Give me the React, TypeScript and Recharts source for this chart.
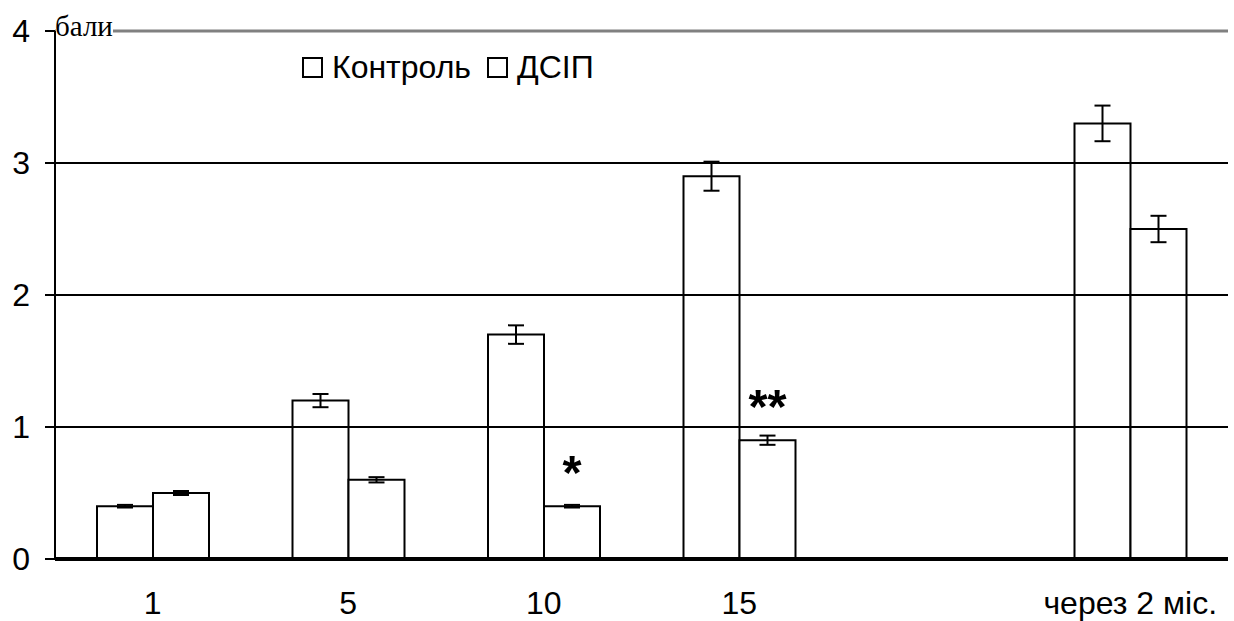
import React from 'react';
import { BarChart, Bar, XAxis, YAxis, ErrorBar, ReferenceLine, Legend, LabelList } from 'recharts';

const categories = ['1', '5', '10', '15', '', 'через 2 міс.'];
const controlValues = [0.4, 1.2, 1.7, 2.9, null, 3.3];
const controlErrors = [0.01, 0.05, 0.07, 0.11, null, 0.135];
const dsipValues = [0.5, 0.6, 0.4, 0.9, null, 2.5];
const dsipErrors = [0.015, 0.02, 0.01, 0.035, null, 0.1];
const significance = ['', '', '*', '**', '', ''];
const yTicks = [0, 1, 2, 3, 4];
const gridValues = [1, 2, 3];
const seriesNames = ['Контроль', 'ДСІП'];

const data = categories.map((c, i) => ({
  cat: c,
  control: controlValues[i],
  controlErr: controlErrors[i],
  dsip: dsipValues[i],
  dsipErr: dsipErrors[i],
  sig: significance[i],
}));

const FONT = 'Arial, "Liberation Sans", sans-serif';

const LegendContent = () => (
  <div style={{ display: 'flex', alignItems: 'center', fontFamily: FONT, fontSize: 32, color: '#000', lineHeight: '36px' }}>
    {seriesNames.map((n, i) => (
      <div key={n} style={{ display: 'flex', alignItems: 'center', marginRight: 16 }}>
        <div style={{ width: 17, height: 17, border: '2px solid #000', marginRight: 9 }} />
        <span>{n}</span>
      </div>
    ))}
  </div>
);

const UnitLabel = (props: any) => {
  const vb = props.viewBox || {};
  const x = vb.x + vb.width;
  const y = vb.y;
  return (
    <g>
      <rect x={x + 1} y={y - 16} width={57} height={24} fill="#fff" />
      <text x={x} y={y + 5} fontFamily='"Liberation Serif", "Times New Roman", serif' fontSize={29} fill="#000">
        бали
      </text>
    </g>
  );
};

const SigLabel = (props: any) => {
  const { x, y, width, value } = props;
  if (!value) return null;
  return (
    <text x={x + width / 2} y={y - 17} textAnchor="middle" fontFamily={FONT} fontWeight="bold" fontSize={49} fill="#000">
      {value}
    </text>
  );
};

export default function App() {
  return (
    <div style={{ position: 'absolute', left: 0, top: 0, background: '#fff' }}>
      <BarChart
        width={1234}
        height={621}
        data={data}
        margin={{ top: 31, right: 6, bottom: 32, left: 0 }}
        barGap={0}
        barSize={56}
      >
        <XAxis
          dataKey="cat"
          height={30}
          axisLine={{ stroke: '#000', strokeWidth: 4 }}
          tickLine={false}
          tickSize={0}
          tickMargin={32}
          tick={{ fontFamily: FONT, fontSize: 32, fill: '#000' }}
          interval={0}
        />
        <YAxis
          yAxisId="left"
          domain={[0, 4]}
          ticks={yTicks}
          width={55}
          axisLine={{ stroke: '#000', strokeWidth: 2 }}
          tickLine={{ stroke: '#000', strokeWidth: 2 }}
          tickSize={10}
          tickMargin={15}
          tick={{ fontFamily: FONT, fontSize: 32, fill: '#000' }}
          label={<UnitLabel />}
        />
        <YAxis
          yAxisId="right"
          orientation="right"
          domain={[0, 4]}
          ticks={yTicks}
          width={0}
          tick={false}
          tickLine={false}
          axisLine={{ stroke: '#808080', strokeWidth: 3 }}
        />
        {gridValues.map((v) => (
          <ReferenceLine key={v} yAxisId="left" y={v} stroke="#000" strokeWidth={2} />
        ))}
        <ReferenceLine yAxisId="left" y={4} stroke="#808080" strokeWidth={3} />
        <Legend
          verticalAlign="middle"
          align="center"
          layout="horizontal"
          content={<LegendContent />}
          wrapperStyle={{ top: 49, left: 302, width: 420 }}
        />
        <Bar yAxisId="left" dataKey="control" name="Контроль" fill="#fff" stroke="#000" strokeWidth={2} isAnimationActive={false}>
          <ErrorBar dataKey="controlErr" width={8} stroke="#000" strokeWidth={2} direction="y" />
        </Bar>
        <Bar yAxisId="left" dataKey="dsip" name="ДСІП" fill="#fff" stroke="#000" strokeWidth={2} isAnimationActive={false}>
          <ErrorBar dataKey="dsipErr" width={8} stroke="#000" strokeWidth={2} direction="y" />
          <LabelList dataKey="sig" content={<SigLabel />} />
        </Bar>
      </BarChart>
    </div>
  );
}
